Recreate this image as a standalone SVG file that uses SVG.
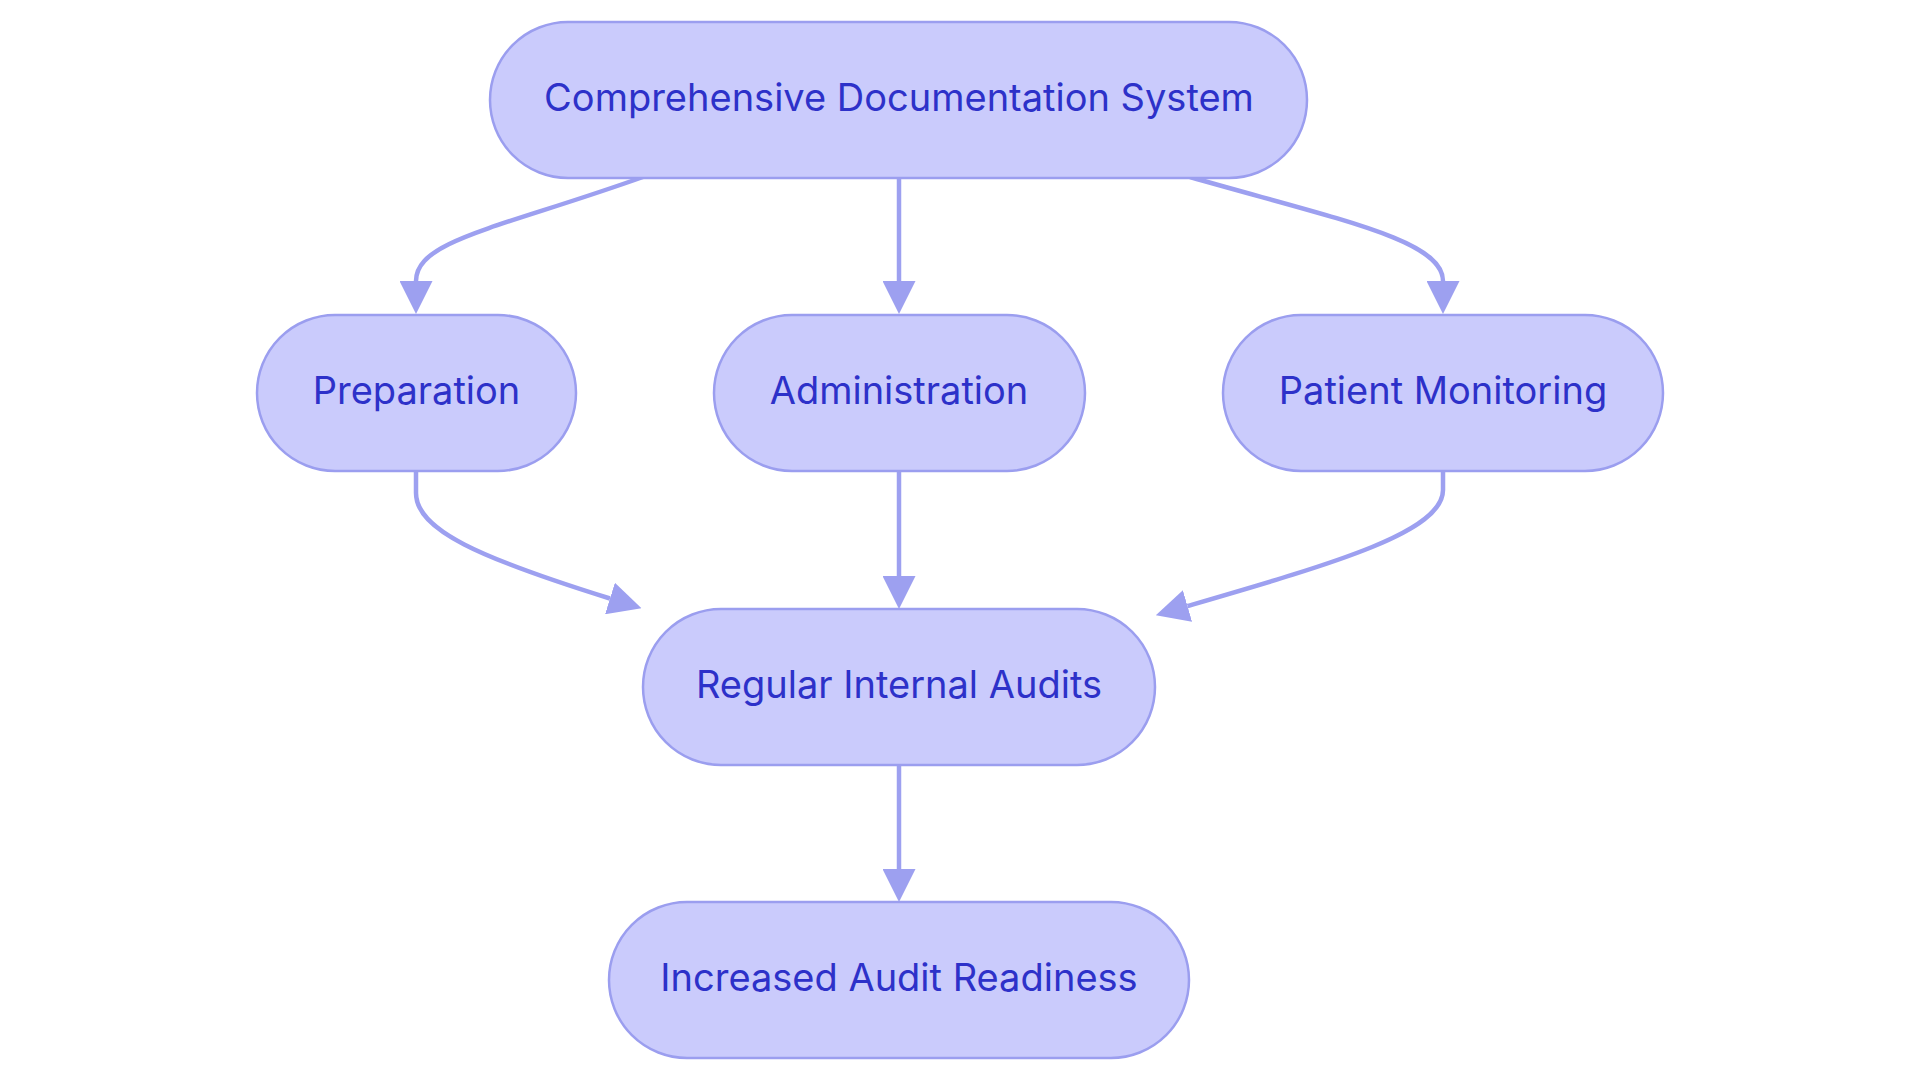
<svg xmlns="http://www.w3.org/2000/svg" width="1920" height="1083" viewBox="0 0 1920 1083">
<defs>
<style>
.node rect{fill:#CACBFC;stroke:#9B9EEF;stroke-width:2.5}
.node text{font-family:Inter,"Noto Sans","Liberation Sans",sans-serif;font-size:38px;fill:#2D31C9;text-anchor:middle}
.edge{fill:none;stroke:#9DA0F0;stroke-width:4.5;marker-end:url(#arrow)}
</style>
<marker id="arrow" viewBox="0 0 10 10" refX="0" refY="5" markerUnits="userSpaceOnUse" markerWidth="33" markerHeight="33" orient="auto">
<path d="M0,0 L10,5 L0,10 z" fill="#9DA0F0"/>
</marker>
</defs>
<rect width="1920" height="1083" fill="#ffffff"/>
<g id="connectors">
<path class="edge" d="M643,177 C500,228 416,240 416,281"/>
<path class="edge" d="M899,178 V281"/>
<path class="edge" d="M1190,177 C1340,220 1443,240 1443,281"/>
<path class="edge" d="M416,471 V493 C416,530 480,558 610,598.5"/>
<path class="edge" d="M899,471 V576"/>
<path class="edge" d="M1443,471 V490 C1443,532 1335,563 1187.5,606"/>
<path class="edge" d="M899,764 V869"/>
</g>
<g id="node-comprehensive" class="node">
<rect x="490" y="22" width="817" height="156" rx="78" ry="78"/>
<text x="899" y="111">Comprehensive Documentation System</text>
</g>
<g id="node-preparation" class="node">
<rect x="257" y="315" width="319" height="156" rx="78" ry="78"/>
<text x="416.5" y="404">Preparation</text>
</g>
<g id="node-administration" class="node">
<rect x="714" y="315" width="371" height="156" rx="78" ry="78"/>
<text x="899" y="404">Administration</text>
</g>
<g id="node-patient-monitoring" class="node">
<rect x="1223" y="315" width="440" height="156" rx="78" ry="78"/>
<text x="1443" y="404">Patient Monitoring</text>
</g>
<g id="node-regular-audits" class="node">
<rect x="643" y="609" width="512" height="156" rx="78" ry="78"/>
<text x="899" y="698">Regular Internal Audits</text>
</g>
<g id="node-audit-readiness" class="node">
<rect x="609" y="902" width="580" height="156" rx="78" ry="78"/>
<text x="899" y="991">Increased Audit Readiness</text>
</g>
</svg>
